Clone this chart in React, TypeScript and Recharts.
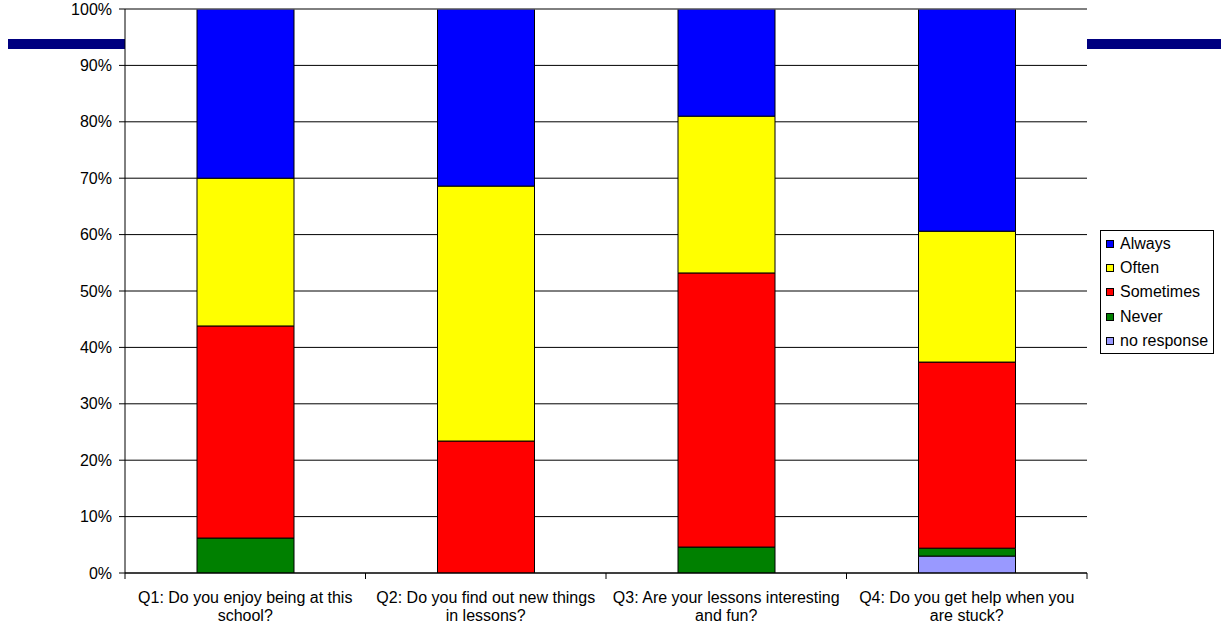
import {
  BarChart,
  Bar,
  XAxis,
  YAxis,
  CartesianGrid,
  ReferenceLine,
} from "recharts";

const questions = ["Q1", "Q2", "Q3", "Q4"];
const tickLines = [
  ["Q1: Do you enjoy being at this", "school?"],
  ["Q2: Do you find out new things", "in lessons?"],
  ["Q3: Are your lessons interesting", "and fun?"],
  ["Q4: Do you get help when you", "are stuck?"],
];
const noResponse = [0, 0, 0, 3.0];
const never = [6.2, 0, 4.6, 1.4];
const sometimes = [37.6, 23.4, 48.6, 33.0];
const often = [26.2, 45.2, 27.8, 23.2];
const always = [30.0, 31.4, 19.0, 39.4];
const yTicks = [0, 10, 20, 30, 40, 50, 60, 70, 80, 90, 100];

const series = [
  { key: "noResponse", name: "no response", color: "#9999ff" },
  { key: "never", name: "Never", color: "#008000" },
  { key: "sometimes", name: "Sometimes", color: "#ff0000" },
  { key: "often", name: "Often", color: "#ffff00" },
  { key: "always", name: "Always", color: "#0000ff" },
];

const data = questions.map((q, i) => ({
  q,
  noResponse: noResponse[i],
  never: never[i],
  sometimes: sometimes[i],
  often: often[i],
  always: always[i],
}));

const FONT = "'Liberation Sans', Arial, sans-serif";
const BAND = 240.5;

function XTick(props: any) {
  const { x, y, index } = props;
  const lines = tickLines[index] || [];
  return (
    <g>
      <line x1={x - BAND / 2} y1={y - 8} x2={x - BAND / 2} y2={y - 2} stroke="#000" />
      {index === questions.length - 1 && (
        <line x1={x + BAND / 2} y1={y - 8} x2={x + BAND / 2} y2={y - 2} stroke="#000" />
      )}
      {lines.map((t, i) => (
        <text
          key={i}
          x={x}
          y={y + 22 + i * 18}
          textAnchor="middle"
          fontSize={16}
          fill="#000"
          fontFamily={FONT}
        >
          {t}
        </text>
      ))}
    </g>
  );
}

function LegendBox() {
  const items = [...series].reverse();
  return (
    <div
      style={{
        position: "absolute",
        left: 1100,
        top: 230,
        border: "1px solid #000",
        background: "#fff",
        width: 114,
        height: 124,
        padding: "1px 0 0 5px",
        fontFamily: FONT,
        fontSize: 16,
        color: "#000",
        boxSizing: "border-box",
      }}
    >
      {items.map((s) => (
        <div key={s.key} style={{ display: "flex", alignItems: "center", height: 24.2 }}>
          <span
            style={{
              display: "inline-block",
              width: 6,
              height: 6,
              border: "1px solid #000",
              background: s.color,
              marginRight: 6,
            }}
          />
          {s.name}
        </div>
      ))}
    </div>
  );
}

export default function App() {
  return (
    <div style={{ position: "absolute", left: 0, top: 0, width: 1221, height: 630, background: "#fff" }}>
      <div
        style={{
          position: "absolute",
          left: 8,
          top: 39,
          width: 1213,
          height: 10,
          background: "#000080",
        }}
      />
      <div style={{ position: "absolute", left: 0, top: 0 }}>
        <BarChart
          width={1221}
          height={630}
          data={data}
          margin={{ top: 9, right: 134, bottom: 0, left: 0 }}
          barCategoryGap="30%"
        >
          <CartesianGrid vertical={false} stroke="#000" fill="#fff" fillOpacity={1} />
          <XAxis
            dataKey="q"
            height={57}
            axisLine={{ stroke: "#000" }}
            tickLine={false}
            tick={<XTick />}
            interval={0}
          />
          <YAxis
            width={125}
            domain={[0, 100]}
            ticks={yTicks}
            allowDataOverflow
            tickFormatter={(v) => `${v}%`}
            axisLine={{ stroke: "#000" }}
            tickLine={{ stroke: "#000" }}
            tickSize={6}
            tickMargin={7}
            tick={{ fill: "#000", fontSize: 16, fontFamily: FONT }}
          />
          <YAxis
            yAxisId="right"
            orientation="right"
            width={0}
            tick={false}
            tickLine={false}
            axisLine={{ stroke: "#808080" }}
          />
          <ReferenceLine y={100} stroke="#808080" />
          {series.map((s) => (
            <Bar
              key={s.key}
              dataKey={s.key}
              name={s.name}
              stackId="a"
              fill={s.color}
              stroke="#000"
              strokeWidth={1}
              barSize={97}
              isAnimationActive={false}
            />
          ))}
        </BarChart>
      </div>
      <LegendBox />
    </div>
  );
}
